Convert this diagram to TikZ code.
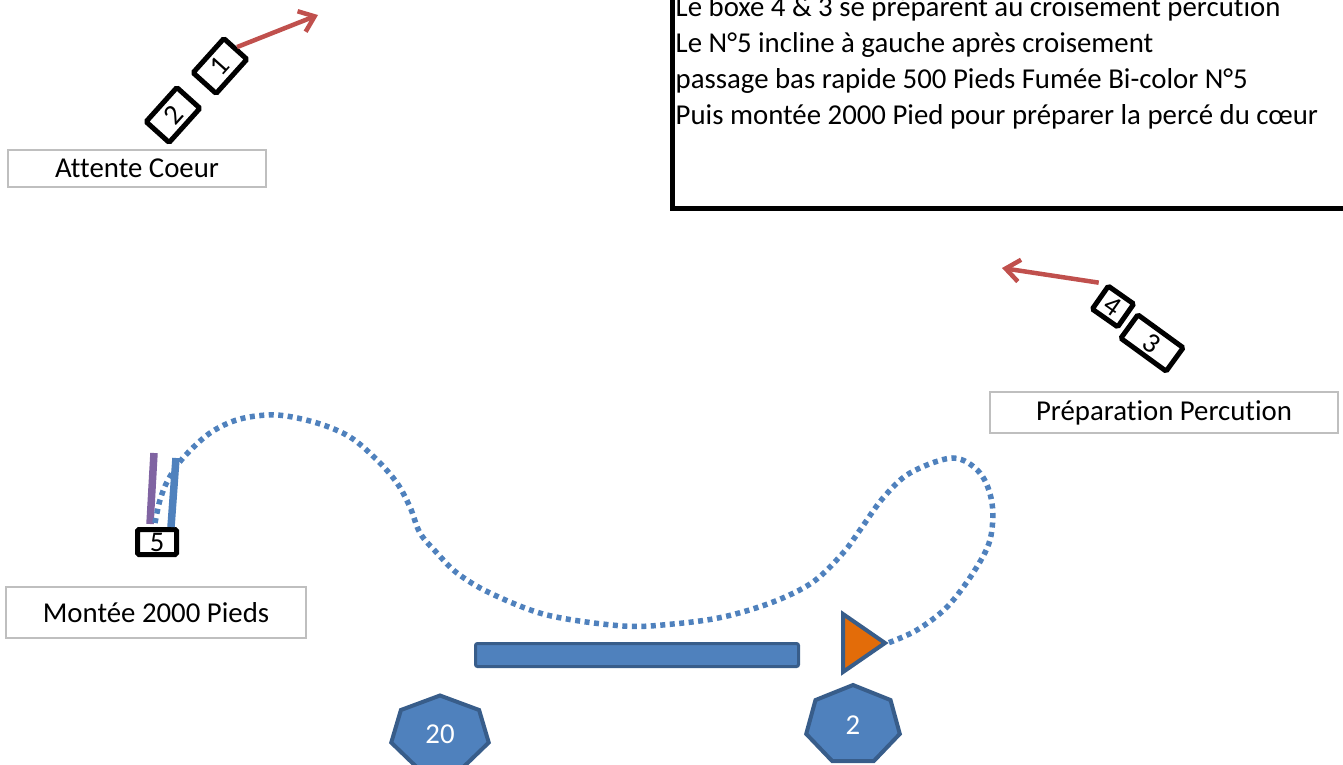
\documentclass[tikz,border=0pt]{standalone}
\usepackage{fontspec}
\setmainfont{Carlito}[Ligatures=NoCommon]
\usetikzlibrary{arrows.meta,calc}
\definecolor{accblue}{HTML}{4F81BD}
\definecolor{darkblue}{HTML}{385D8A}
\definecolor{accred}{HTML}{C0504D}
\definecolor{accpurple}{HTML}{8064A2}
\definecolor{accorange}{HTML}{E36C09}
\definecolor{lblgray}{HTML}{BFBFBF}
\begin{document}
\begin{tikzpicture}[x=1pt,y=-1pt,
  txt/.style={font=\fontsize{28.8}{35}\selectfont, inner sep=0pt},
  lbl/.style={draw=lblgray, line width=2pt, inner sep=0pt, font=\fontsize{28.8}{35}\selectfont},
  bbox/.style={draw=black, line width=5pt, rounded corners=1.5pt, inner sep=0pt, fill=white, font=\fontsize{28.5}{32}\selectfont},
  redarr/.style={accred, line width=4.5pt, -{Straight Barb[length=14pt,width=22pt]}},
  dotline/.style={accblue, line width=5.5pt, dash pattern=on 5pt off 4.5pt},
  stick/.style={line width=7.5pt},
  shapefill/.style={fill=accblue, draw=darkblue, line width=4pt, line join=miter}]
\useasboundingbox (0,0) rectangle (1343,765);

% note box
\node[draw=black, line width=5pt, minimum width=700pt, minimum height=240pt, inner sep=0pt, anchor=south west] (note) at (670,211) {};
\node[txt, anchor=base west] (l1) at (675.5,16.5) {Le boxe 4 \& 3 se préparent au croisement percution};
\node[txt, anchor=base west] (l2) at (675.5,52.3) {Le N°5 incline à gauche après croisement};
\node[txt, anchor=base west] (l3) at (675.5,88.4) {passage bas rapide 500 Pieds Fumée Bi-color N°5};
\node[txt, anchor=base west] (l4) at (675.5,124.5) {Puis montée 2000 Pied pour préparer la percé du cœur};

% labels
\node[lbl, minimum width=258pt, minimum height=37pt] (att) at (137,168.5) {Attente Coeur};
\node[lbl, minimum width=348pt, minimum height=41pt] (prep) at (1164,412.5) {Préparation Percution};
\node[lbl, minimum width=300pt, minimum height=51pt] (mont) at (156,612.5) {Montée 2000 Pieds};

% boxes 1 and 2
\node[bbox, minimum width=46pt, minimum height=31pt, rotate=48] (b1) at (220,66) {1};
\node[bbox, minimum width=46pt, minimum height=31pt, rotate=48] (b2) at (173,115) {2};
\coordinate (a1) at (318,15);
\draw[redarr] (b1.east) -- (a1);

% boxes 4 and 3
\node[bbox, minimum width=31pt, minimum height=28pt, rotate=-35] (b4) at (1113,306.5) {4};
\node[bbox, minimum width=56pt, minimum height=29pt, rotate=-36] (b3) at (1152,343) {3};
\coordinate (a2) at (1002,268);
\draw[redarr] ($(b4.north west)+(-9,0)$) -- (a2);

% box 5 with smoke sticks
\coordinate (p1) at (154,453);
\coordinate (p2) at (176,458);
\node[bbox, minimum width=39pt, minimum height=25pt] (b5) at (157,542) {5};
\draw[stick, accpurple] (p1) -- (150,524);
\draw[stick, accblue] (p2) -- (171,527);

% bar
\node[shapefill, line width=3pt, rounded corners=2pt, minimum width=323pt, minimum height=23pt, inner sep=0pt] (bar) at (637,655) {};

% triangle
\coordinate (tipc) at (888,643);
\draw[shapefill, fill=accorange] (843,614) -- (885,643) -- (843,672) -- cycle;

% heptagons
\draw[shapefill] plot[samples at={0,...,6}] ({440+50*cos(-90+\x*360/7)}, {734+38.5*sin(-90+\x*360/7)}) -- cycle;
\draw[shapefill] plot[samples at={0,...,6}] ({853+48*cos(-90+\x*360/7)}, {725+40*sin(-90+\x*360/7)}) -- cycle;
\node[txt, text=white] (h20) at (440,734) {20};
\node[txt, text=white] (h2) at (853,725) {2};

% dotted path
\draw[dotline] plot[smooth, tension=0.55] coordinates {(155,523) (160,500) (168,480) (183,458) (210,433) (240,419) (277,415) (317,423) (350,437) (377,460) (397,483) (410,507) (420,533) (437,553) (457,573) (490,593) (547,615) (623,626) (673,624) (723,617) (773,602) (813,582) (843,553) (860,530) (883,498) (910,473) (953,458) (980,473) (992,503) (990,540) (973,573) (947,607) (917,630) (tipc)};
\end{tikzpicture}
\end{document}
